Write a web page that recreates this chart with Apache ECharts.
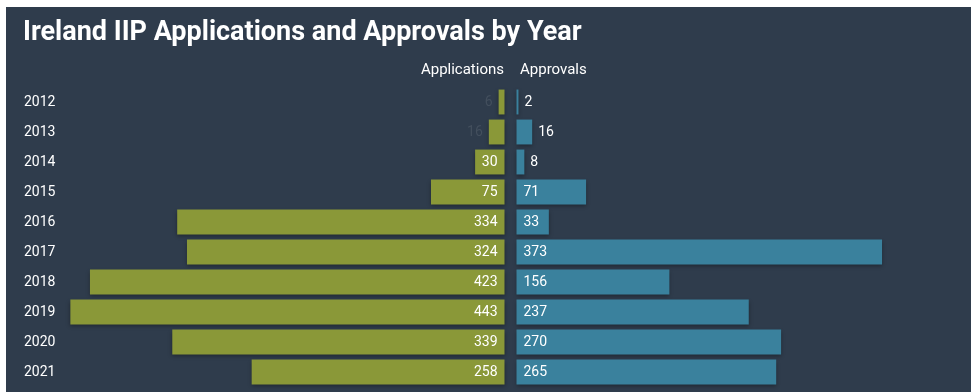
<!DOCTYPE html>
<html>
<head>
<meta charset="utf-8">
<script src="https://cdn.jsdelivr.net/npm/echarts@6/dist/echarts.min.js"></script>
<style>
html,body{margin:0;padding:0;background:#fff;}
#c{width:978px;height:392px;}
</style>
</head>
<body>
<div id="c"></div>
<script>
var years = ['2012','2013','2014','2015','2016','2017','2018','2019','2020','2021'];
var applications = [6, 16, 30, 75, 334, 324, 423, 443, 339, 258];
var approvals = [2, 16, 8, 71, 33, 373, 156, 237, 270, 265];
var titleText = 'Ireland IIP Applications and Approvals by Year';
var seriesNames = ['Applications', 'Approvals'];

var BG = '#2f3c4c';
var OLIVE = '#8a9838';
var BLUE = '#3a819d';
var SMALL = 25;

var chart = echarts.init(document.getElementById('c'));

var appData = applications.map(function (v) {
  var d = { value: v };
  if (v < SMALL) {
    d.label = { position: 'left', color: '#434f5d', distance: 6 };
  }
  return d;
});
var aprData = approvals.map(function (v) {
  var d = { value: v };
  if (v < SMALL) {
    d.label = { position: 'right', color: '#ffffff', distance: 6 };
  }
  return d;
});

var shadow = { shadowColor: 'rgba(0,0,0,0.35)', shadowBlur: 4, shadowOffsetY: 2 };

chart.setOption({
  backgroundColor: '#ffffff',
  animation: false,
  graphic: [
    { type: 'rect', z: -10, shape: { x: 6, y: 7, width: 965, height: 392 }, style: { fill: BG } },
    { type: 'text', left: 23, top: 20, style: { text: titleText, fill: '#ffffff', font: 'bold 27px Roboto', letterSpacing: -0.2 } },
    { type: 'text', right: 978 - 504, top: 63, style: { text: seriesNames[0], fill: '#ffffff', font: '15px Roboto', textAlign: 'right' } },
    { type: 'text', left: 520, top: 63, style: { text: seriesNames[1], fill: '#ffffff', font: '15px Roboto' } }
  ],
  grid: [
    { left: 63.5, width: 441, top: 87, bottom: 5, containLabel: false },
    { left: 516.5, width: 441, top: 87, bottom: 5, containLabel: false }
  ],
  xAxis: [
    { gridIndex: 0, type: 'value', inverse: true, min: 0, max: 450, show: false },
    { gridIndex: 1, type: 'value', min: 0, max: 450, show: false }
  ],
  yAxis: [
    {
      gridIndex: 0, type: 'category', data: years, inverse: true, position: 'left',
      axisLine: { show: false, onZero: false }, axisTick: { show: false },
      axisLabel: { align: 'left', margin: 39.5, color: '#ffffff', fontSize: 14, fontFamily: 'Roboto' }
    },
    {
      gridIndex: 1, type: 'category', data: years, inverse: true,
      axisLine: { show: false, onZero: false }, axisTick: { show: false }, axisLabel: { show: false }
    }
  ],
  series: [
    {
      name: seriesNames[0], type: 'bar', xAxisIndex: 0, yAxisIndex: 0, data: appData,
      barCategoryGap: '17%',
      itemStyle: Object.assign({ color: OLIVE }, shadow),
      label: { show: true, position: 'insideRight', distance: 7, color: '#ffffff', fontSize: 14, fontFamily: 'Roboto' }
    },
    {
      name: seriesNames[1], type: 'bar', xAxisIndex: 1, yAxisIndex: 1, data: aprData,
      barCategoryGap: '17%',
      itemStyle: Object.assign({ color: BLUE }, shadow),
      label: { show: true, position: 'insideLeft', distance: 7, color: '#ffffff', fontSize: 14, fontFamily: 'Roboto' }
    }
  ]
});
</script>
</body>
</html>
